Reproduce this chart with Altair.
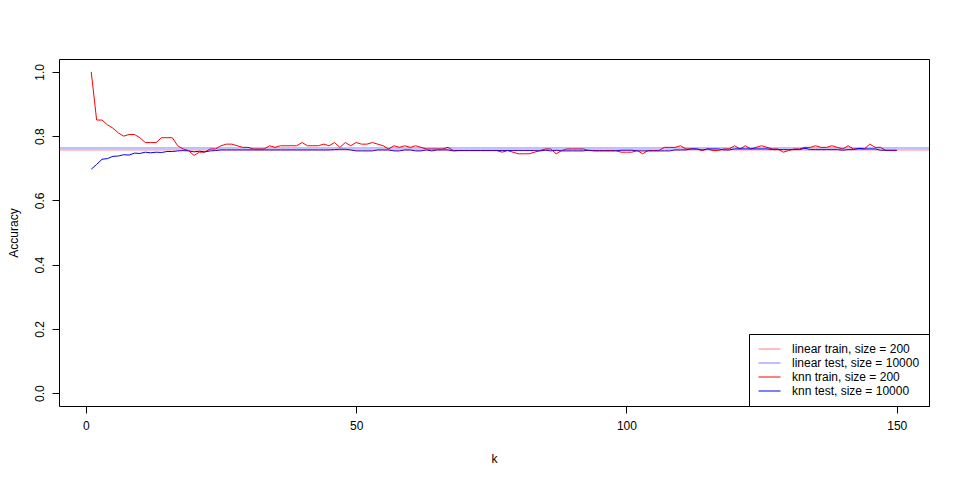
import altair as alt
import pandas as pd

k_values = list(range(1, 151))

knn_train = [
    1.000, 0.850, 0.850, 0.835, 0.825, 0.810, 0.800, 0.805, 0.805, 0.795,
    0.780, 0.780, 0.780, 0.795, 0.795, 0.795, 0.770, 0.760, 0.755, 0.740,
    0.750, 0.750, 0.760, 0.760, 0.770, 0.775, 0.775, 0.770, 0.765, 0.765,
    0.760, 0.760, 0.760, 0.770, 0.765, 0.770, 0.770, 0.770, 0.770, 0.780,
    0.770, 0.770, 0.770, 0.775, 0.770, 0.780, 0.765, 0.780, 0.770, 0.780,
    0.775, 0.775, 0.780, 0.775, 0.770, 0.760, 0.770, 0.765, 0.770, 0.765,
    0.770, 0.765, 0.760, 0.760, 0.760, 0.760, 0.765, 0.755, 0.755, 0.755,
    0.755, 0.755, 0.755, 0.755, 0.755, 0.755, 0.750, 0.755, 0.750, 0.745,
    0.745, 0.745, 0.750, 0.755, 0.760, 0.760, 0.745, 0.755, 0.760, 0.760,
    0.760, 0.760, 0.755, 0.755, 0.755, 0.755, 0.755, 0.755, 0.750, 0.750,
    0.750, 0.755, 0.745, 0.755, 0.755, 0.755, 0.765, 0.765, 0.765, 0.770,
    0.760, 0.760, 0.760, 0.755, 0.760, 0.755, 0.755, 0.760, 0.760, 0.770,
    0.760, 0.770, 0.760, 0.765, 0.770, 0.765, 0.760, 0.760, 0.750, 0.755,
    0.760, 0.760, 0.765, 0.765, 0.770, 0.765, 0.765, 0.770, 0.765, 0.760,
    0.770, 0.760, 0.760, 0.760, 0.775, 0.765, 0.765, 0.755, 0.755, 0.755,
]

knn_test = [
    0.697, 0.712, 0.728, 0.730, 0.737, 0.738, 0.742, 0.741, 0.747, 0.746,
    0.750, 0.748, 0.750, 0.749, 0.752, 0.752, 0.754, 0.755, 0.754, 0.751,
    0.753, 0.751, 0.754, 0.755, 0.757, 0.757, 0.757, 0.757, 0.757, 0.757,
    0.757, 0.757, 0.757, 0.757, 0.757, 0.757, 0.757, 0.757, 0.757, 0.757,
    0.757, 0.757, 0.757, 0.757, 0.757, 0.758, 0.759, 0.759, 0.757, 0.754,
    0.754, 0.754, 0.754, 0.757, 0.757, 0.757, 0.754, 0.754, 0.757, 0.757,
    0.754, 0.754, 0.757, 0.754, 0.757, 0.757, 0.757, 0.754, 0.755, 0.755,
    0.755, 0.755, 0.755, 0.755, 0.755, 0.755, 0.755, 0.755, 0.755, 0.755,
    0.755, 0.755, 0.755, 0.754, 0.756, 0.754, 0.756, 0.754, 0.754, 0.754,
    0.754, 0.754, 0.756, 0.754, 0.754, 0.754, 0.754, 0.754, 0.756, 0.756,
    0.756, 0.754, 0.754, 0.754, 0.754, 0.754, 0.754, 0.754, 0.757, 0.757,
    0.757, 0.760, 0.760, 0.757, 0.760, 0.760, 0.760, 0.757, 0.757, 0.760,
    0.760, 0.760, 0.760, 0.760, 0.760, 0.760, 0.758, 0.758, 0.758, 0.758,
    0.758, 0.758, 0.762, 0.758, 0.758, 0.758, 0.758, 0.758, 0.758, 0.756,
    0.758, 0.758, 0.762, 0.760, 0.760, 0.760, 0.756, 0.756, 0.756, 0.756,
]

series_names = ["linear train, size = 200", "linear test, size = 10000",
                "knn train, size = 200", "knn test, size = 10000"]
series_colors = ["rgba(255,0,0,0.5)", "rgba(0,0,255,0.5)", "#FF0000", "#0000FF"]
linear_values = [0.757, 0.763]

x_ticks = [0, 50, 100, 150]
y_ticks = [0.0, 0.2, 0.4, 0.6, 0.8, 1.0]

train_df = pd.DataFrame({"k": k_values, "acc": knn_train, "series": series_names[2]})
test_df = pd.DataFrame({"k": k_values, "acc": knn_test, "series": series_names[3]})
lin_df = pd.DataFrame({"acc": linear_values, "series": series_names[:2]})

FONT = "Liberation Sans"

color = alt.Color(
    "series:N",
    scale=alt.Scale(domain=series_names, range=series_colors),
    sort=series_names,
    legend=alt.Legend(
        orient="bottom-right", title=None, offset=0,
        strokeColor="black", fillColor="white", padding=9,
        symbolType="M-1,0L3,0", symbolSize=121, symbolStrokeWidth=1,
        symbolFillColor="transparent",
        labelFont=FONT, labelFontSize=12, labelColor="black",
        labelOffset=22, labelLimit=400, rowPadding=2, cornerRadius=0,
    ),
)

x_enc = alt.X(
    "k:Q",
    scale=alt.Scale(domain=[-4.96, 155.96], nice=False, zero=False),
    axis=alt.Axis(values=x_ticks, title="k", format="d", labelPadding=16,
                  labelBaseline="alphabetic", titleX=435, titleY=56,
                  titleBaseline="alphabetic", titleAlign="center"),
)
y_enc = alt.Y(
    "acc:Q",
    scale=alt.Scale(domain=[-0.04, 1.04], nice=False, zero=False),
    axis=alt.Axis(values=y_ticks, title="Accuracy", format=".1f",
                  labelAngle=270, labelAlign="center", labelBaseline="alphabetic",
                  labelPadding=9, titleAngle=270, titleX=-42, titleY=173.5,
                  titleBaseline="alphabetic", titleAlign="center"),
)

line_train = alt.Chart(train_df).mark_line(strokeWidth=1).encode(x=x_enc, y=y_enc, color=color)
line_test = alt.Chart(test_df).mark_line(strokeWidth=1).encode(x=x_enc, y=y_enc, color=color)
rules = alt.Chart(lin_df).mark_rule(strokeWidth=1).encode(y=alt.Y("acc:Q"), color=color)

chart = alt.layer(line_train, line_test, rules).properties(
    width=870, height=347,
    padding={"left": 51, "top": 51, "right": 20, "bottom": 66},
    autosize="none",
).configure_view(
    stroke="black", strokeWidth=1
).configure_axis(
    domain=False, grid=False, ticks=True, tickColor="black", tickSize=7,
    tickWidth=1, labelFont=FONT, labelFontSize=12, labelColor="black",
    titleFont=FONT, titleFontSize=12, titleColor="black", titleFontWeight="normal",
)

chart.save("out.html", embed_options={"renderer": "svg", "actions": False})
